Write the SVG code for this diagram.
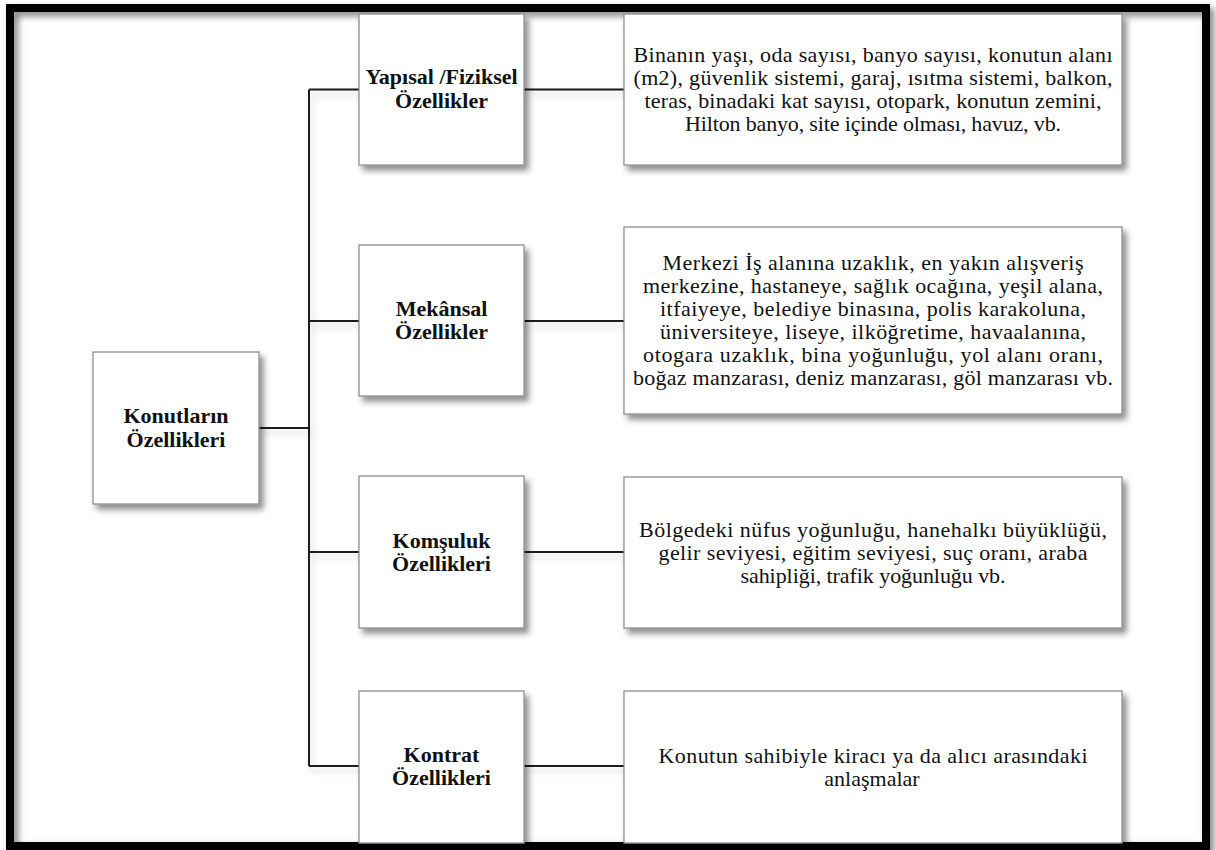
<svg xmlns="http://www.w3.org/2000/svg" width="1216" height="850" viewBox="0 0 1216 850">
<defs>
<filter id="sh" x="-10%" y="-10%" width="130%" height="130%">
<feDropShadow dx="4" dy="5" stdDeviation="3" flood-color="#000" flood-opacity="0.45"/>
</filter>
<filter id="lsh" x="-5%" y="-50%" width="110%" height="300%">
<feDropShadow dx="3" dy="5" stdDeviation="3" flood-color="#000" flood-opacity="0.18"/>
</filter>
<filter id="fsh" x="-5%" y="-5%" width="110%" height="110%">
<feDropShadow dx="4" dy="4" stdDeviation="3.5" flood-color="#000" flood-opacity="0.5"/>
</filter>
</defs>
<style>
.box{fill:#fff;stroke:#8f8f8f;stroke-width:1.3;filter:url(#sh)}
.lbl{font-family:"Liberation Serif","Times New Roman",serif;font-weight:bold;font-size:22px;fill:#111;text-anchor:middle}
.txt{font-family:"Liberation Serif","Times New Roman",serif;font-size:22px;fill:#111;text-anchor:middle}
.con{stroke:#1a1a1a;stroke-width:2;fill:none}
</style>
<rect x="0" y="0" width="1216" height="850" fill="#fff"/>
<rect x="10" y="8" width="1196" height="838" fill="none" stroke="#000" stroke-width="8" filter="url(#fsh)"/>

<g id="connectors" filter="url(#lsh)">
<path class="con" d="M259 428H309M309 89.5V766M309 89.5H359M309 321H359M309 552H359M309 766H359M524 89.5H624M524 321H624M524 552H624M524 766H624"/>
</g>

<g id="root">
<rect class="box" x="93" y="352" width="166" height="152"/>
<text class="lbl" x="176" y="423">Konutların</text>
<text class="lbl" x="176" y="447">Özellikleri</text>
</g>

<g id="yapisal">
<rect class="box" x="359" y="14" width="165" height="151"/>
<text class="lbl" x="441.5" y="84">Yapısal /Fiziksel</text>
<text class="lbl" x="441.5" y="108">Özellikler</text>
</g>

<g id="mekansal">
<rect class="box" x="359" y="245" width="165" height="151"/>
<text class="lbl" x="441.5" y="316">Mekânsal</text>
<text class="lbl" x="441.5" y="339">Özellikler</text>
</g>

<g id="komsuluk">
<rect class="box" x="359" y="476" width="165" height="152"/>
<text class="lbl" x="441.5" y="548">Komşuluk</text>
<text class="lbl" x="441.5" y="571">Özellikleri</text>
</g>

<g id="kontrat">
<rect class="box" x="359" y="691" width="165" height="152"/>
<text class="lbl" x="441.5" y="762">Kontrat</text>
<text class="lbl" x="441.5" y="785">Özellikleri</text>
</g>

<g id="desc-yapisal">
<rect class="box" x="624" y="14" width="498" height="151"/>
<text class="txt" x="873" y="62" textLength="479" lengthAdjust="spacing">Binanın yaşı, oda sayısı, banyo sayısı, konutun alanı</text>
<text class="txt" x="873" y="85" textLength="479" lengthAdjust="spacing">(m2), güvenlik sistemi, garaj, ısıtma sistemi, balkon,</text>
<text class="txt" x="873" y="108" textLength="457" lengthAdjust="spacing">teras, binadaki kat sayısı, otopark, konutun zemini,</text>
<text class="txt" x="873" y="131" textLength="376" lengthAdjust="spacing">Hilton banyo, site içinde olması, havuz, vb.</text>
</g>

<g id="desc-mekansal">
<rect class="box" x="624" y="227" width="498" height="187"/>
<text class="txt" x="873" y="270" textLength="421" lengthAdjust="spacing">Merkezi İş alanına uzaklık, en yakın alışveriş</text>
<text class="txt" x="873" y="293" textLength="460" lengthAdjust="spacing">merkezine, hastaneye, sağlık ocağına, yeşil alana,</text>
<text class="txt" x="873" y="316" textLength="426" lengthAdjust="spacing">itfaiyeye, belediye binasına, polis karakoluna,</text>
<text class="txt" x="873" y="339" textLength="426" lengthAdjust="spacing">üniversiteye, liseye, ilköğretime, havaalanına,</text>
<text class="txt" x="873" y="362" textLength="460" lengthAdjust="spacing">otogara  uzaklık, bina yoğunluğu, yol  alanı oranı,</text>
<text class="txt" x="873" y="385" textLength="480" lengthAdjust="spacing">boğaz manzarası, deniz manzarası, göl manzarası vb.</text>
</g>

<g id="desc-komsuluk">
<rect class="box" x="624" y="477" width="498" height="151"/>
<text class="txt" x="873" y="537" textLength="468" lengthAdjust="spacing">Bölgedeki nüfus yoğunluğu, hanehalkı büyüklüğü,</text>
<text class="txt" x="873" y="560" textLength="429" lengthAdjust="spacing">gelir seviyesi, eğitim seviyesi,  suç oranı, araba</text>
<text class="txt" x="873" y="583" textLength="265" lengthAdjust="spacing">sahipliği, trafik yoğunluğu vb.</text>
</g>

<g id="desc-kontrat">
<rect class="box" x="624" y="691" width="498" height="152"/>
<text class="txt" x="873" y="763" textLength="429" lengthAdjust="spacing">Konutun sahibiyle kiracı ya da  alıcı arasındaki</text>
<text class="txt" x="872" y="786">anlaşmalar</text>
</g>
</svg>
